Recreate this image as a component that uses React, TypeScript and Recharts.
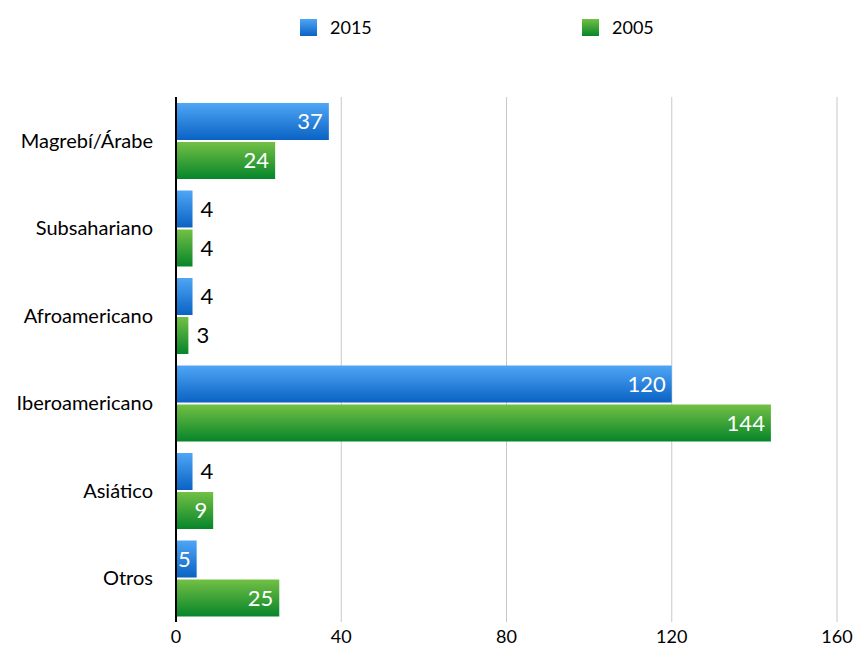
import React from 'react';
import { Bar, BarChart, CartesianGrid, LabelList, Legend, XAxis, YAxis } from 'recharts';

const categories = ['Magrebí/Árabe', 'Subsahariano', 'Afroamericano', 'Iberoamericano', 'Asiático', 'Otros'];
const values2015 = [37, 4, 4, 120, 4, 5];
const values2005 = [24, 4, 3, 144, 9, 25];
const xTicks = [0, 40, 80, 120, 160];

const data = categories.map((name, i) => ({ name, y2015: values2015[i], y2005: values2005[i] }));

const FONT = 'Lato, "Open Sans", sans-serif';

const ValueLabel = (props: any) => {
  const { x, y, width, height, value } = props;
  const inside = width >= 20;
  return (
    <text
      x={inside ? x + width - 6 : x + width + 8}
      y={y + height / 2}
      dy="0.35em"
      textAnchor={inside ? 'end' : 'start'}
      fill={inside ? '#ffffff' : '#000000'}
      fontSize={22}
      fontFamily={FONT}
    >
      {value}
    </text>
  );
};

const LegendContent = () => (
  <div style={{ position: 'relative', height: 40, fontFamily: FONT, fontSize: 18, color: '#000' }}>
    <div style={{ position: 'absolute', left: 300, top: 0, display: 'flex', alignItems: 'center' }}>
      <span style={{ width: 17, height: 17, background: 'linear-gradient(#4fa6f5, #0a62c4)', display: 'inline-block', marginRight: 13 }} />
      <span>2015</span>
    </div>
    <div style={{ position: 'absolute', left: 582, top: 0, display: 'flex', alignItems: 'center' }}>
      <span style={{ width: 17, height: 17, background: 'linear-gradient(#73c045, #06852a)', display: 'inline-block', marginRight: 13 }} />
      <span>2005</span>
    </div>
  </div>
);

export default function App() {
  return (
    <div style={{ position: 'absolute', left: 0, top: 0, background: '#fff' }}>
      <BarChart
        width={855}
        height={647}
        data={data}
        layout="vertical"
        margin={{ top: 57, right: 18, left: 0, bottom: 0 }}
        barGap={2}
        barSize={37}
      >
        <defs>
          <linearGradient id="gBlue" x1="0" y1="0" x2="0" y2="1">
            <stop offset="0%" stopColor="#4fa6f5" />
            <stop offset="100%" stopColor="#0a62c4" />
          </linearGradient>
          <linearGradient id="gGreen" x1="0" y1="0" x2="0" y2="1">
            <stop offset="0%" stopColor="#73c045" />
            <stop offset="100%" stopColor="#06852a" />
          </linearGradient>
        </defs>
        <CartesianGrid horizontal={false} stroke="#c8c8c8" />
        <XAxis
          type="number"
          domain={[0, 160]}
          ticks={xTicks}
          height={25}
          axisLine={false}
          tickLine={false}
          tick={{ fontSize: 18, fill: '#000', fontFamily: FONT }}
        />
        <YAxis
          type="category"
          dataKey="name"
          width={176}
          axisLine={{ stroke: '#000', strokeWidth: 2 }}
          tickLine={false}
          tickSize={0}
          tickMargin={23}
          tick={{ fontSize: 20, fill: '#000', fontFamily: FONT }}
        />
        <Legend verticalAlign="top" wrapperStyle={{ top: 16, left: 0, width: 855 }} content={<LegendContent />} />
        <Bar dataKey="y2015" fill="url(#gBlue)" isAnimationActive={false}>
          <LabelList dataKey="y2015" content={<ValueLabel />} />
        </Bar>
        <Bar dataKey="y2005" fill="url(#gGreen)" isAnimationActive={false}>
          <LabelList dataKey="y2005" content={<ValueLabel />} />
        </Bar>
      </BarChart>
    </div>
  );
}
